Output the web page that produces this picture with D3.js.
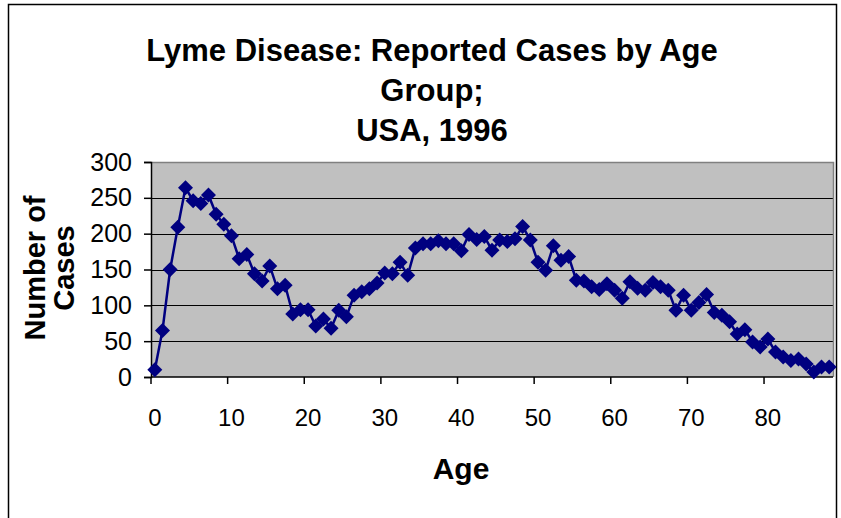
<!DOCTYPE html>
<html>
<head>
<meta charset="utf-8">
<script src="https://cdn.jsdelivr.net/npm/d3@7"></script>
<style>
  html, body { margin: 0; padding: 0; background: #fff; }
  svg { display: block; }
  text { font-family: "Liberation Sans", Arial, sans-serif; fill: #000; }
</style>
</head>
<body>
<svg id="chart" width="841" height="518"></svg>
<script>
// ---- data ----
const titleLines = ["Lyme Disease: Reported Cases by Age", "Group;", "USA, 1996"];
const xTitle = "Age";
const yTitleLines = ["Number of", "Cases"];
const ages = [0,1,2,3,4,5,6,7,8,9,10,11,12,13,14,15,16,17,18,19,20,21,22,23,24,25,26,27,28,29,
  30,31,32,33,34,35,36,37,38,39,40,41,42,43,44,45,46,47,48,49,50,51,52,53,54,55,56,57,58,59,
  60,61,62,63,64,65,66,67,68,69,70,71,72,73,74,75,76,77,78,79,80,81,82,83,84,85,86,87,88];
const cases = [10,65,150,209,264,246,242,254,227,213,
  197,165,171,144,134,155,123,128,88,94,
  94,71,81,68,93,84,114,119,123,131,
  145,144,160,142,180,186,186,190,186,186,
  176,199,192,196,177,191,189,193,210,191,
  160,149,183,163,168,135,134,126,122,130,
  121,110,133,124,121,132,126,121,93,114,
  93,104,115,90,86,77,60,66,49,42,
  53,35,28,23,25,18,7,14,14];
const xTickLabels = [0,10,20,30,40,50,60,70,80];
const yTicks = [0,50,100,150,200,250,300];

// ---- layout ----
const svg = d3.select("#chart");
const plot = {left: 151, right: 833, top: 162, bottom: 377};
const navy = "#000080";
const ff = '"Liberation Sans", Arial, sans-serif';

// outer chart border
svg.append("rect").attr("x", 8.5).attr("y", 4.5).attr("width", 828).attr("height", 540)
  .attr("fill", "#fff").attr("stroke", "#000").attr("stroke-width", 1.5);

const x = d3.scaleBand().domain(ages).range([plot.left, plot.right]).paddingInner(0).paddingOuter(0);
const y = d3.scaleLinear().domain([0, 300]).range([plot.bottom, plot.top]);
const cx = a => x(a) + x.bandwidth() / 2;

// plot background
svg.append("rect").attr("x", plot.left).attr("y", plot.top)
  .attr("width", plot.right - plot.left).attr("height", plot.bottom - plot.top)
  .attr("fill", "#c0c0c0");

// gridlines
svg.append("g").selectAll("line").data(yTicks.filter(v => v > 0)).join("line")
  .attr("x1", plot.left).attr("x2", plot.right)
  .attr("y1", d => Math.round(y(d)) + 0.5).attr("y2", d => Math.round(y(d)) + 0.5)
  .attr("stroke", "#000").attr("stroke-width", 1);

// plot border (right/top)
svg.append("path")
  .attr("d", `M${plot.left},${plot.top + 0.5}H${plot.right + 0.5}V${plot.bottom}`)
  .attr("fill", "none").attr("stroke", "#808080").attr("stroke-width", 1.5);

// y axis
const yAxis = svg.append("g").attr("transform", `translate(${plot.left},0)`)
  .call(d3.axisLeft(y).tickValues(yTicks).tickSize(7).tickPadding(12));
yAxis.selectAll("text").attr("font-size", 25).style("font-family", ff);
yAxis.selectAll("line, path").attr("stroke", "#000").attr("stroke-width", 1.5);

// x axis: labels centered on categories, ticks on category boundaries
const xAxis = svg.append("g").attr("transform", `translate(0,${plot.bottom})`)
  .call(d3.axisBottom(x).tickValues(xTickLabels).tickSize(0).tickPadding(32));
xAxis.select(".domain").attr("stroke", "#000").attr("stroke-width", 1.5)
  .attr("d", `M${plot.left},0H${plot.right}`);
xAxis.selectAll("text").attr("font-size", 24).style("font-family", ff);
svg.append("g").selectAll("line").data(xTickLabels).join("line")
  .attr("x1", d => x(d)).attr("x2", d => x(d))
  .attr("y1", plot.bottom).attr("y2", plot.bottom + 7)
  .attr("stroke", "#000").attr("stroke-width", 1.5);

// series line
const line = d3.line().x((d, i) => cx(ages[i])).y(d => y(d));
svg.append("path").datum(cases).attr("d", line)
  .attr("fill", "none").attr("stroke", navy).attr("stroke-width", 2.5);

// diamond markers
const r = 7.5;
svg.append("g").selectAll("path").data(cases).join("path")
  .attr("d", (d, i) => {
    const px = cx(ages[i]), py = y(d);
    return `M${px},${py - r}L${px + r},${py}L${px},${py + r}L${px - r},${py}Z`;
  })
  .attr("fill", navy);

// title
svg.append("g").selectAll("text").data(titleLines).join("text")
  .attr("x", 432).attr("y", (d, i) => 61 + i * 40)
  .attr("text-anchor", "middle").attr("font-weight", "bold").attr("font-size", 31)
  .text(d => d);

// x axis title
svg.append("text").attr("x", 461).attr("y", 479)
  .attr("text-anchor", "middle").attr("font-weight", "bold").attr("font-size", 30)
  .text(xTitle);

// y axis title
svg.append("g").selectAll("text").data(yTitleLines).join("text")
  .attr("transform", (d, i) => `translate(${45 + i * 29},268) rotate(-90)`)
  .attr("text-anchor", "middle").attr("font-weight", "bold").attr("font-size", 29)
  .text(d => d);
</script>
</body>
</html>
